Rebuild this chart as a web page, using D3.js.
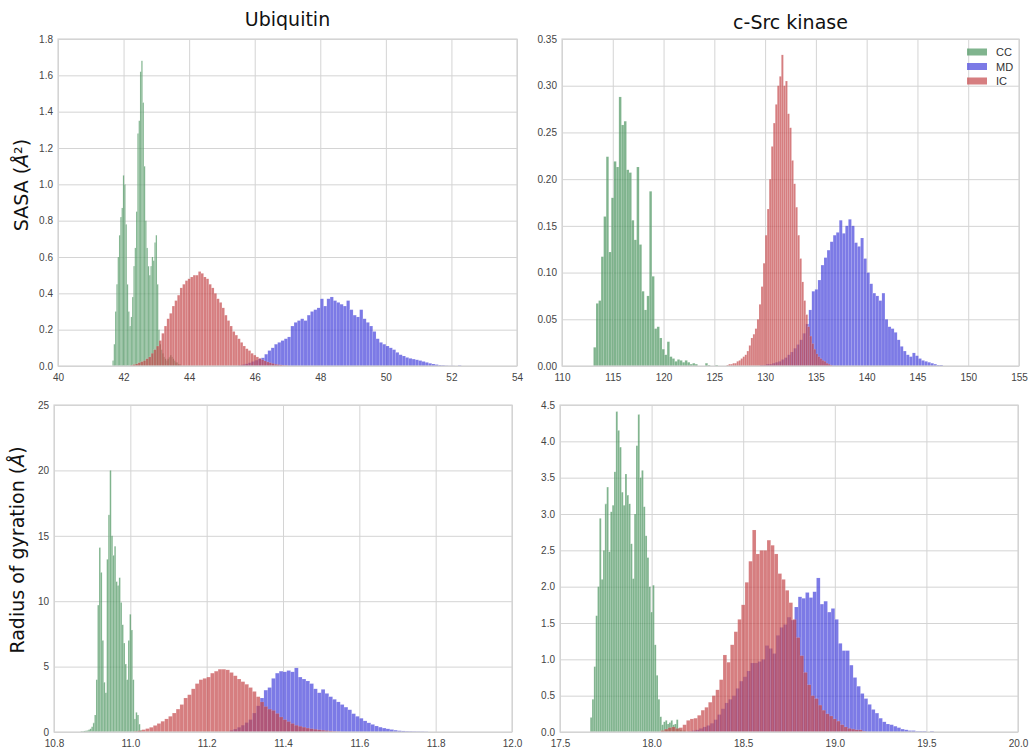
<!DOCTYPE html>
<html>
<head>
<meta charset="utf-8">
<script src="https://cdn.jsdelivr.net/npm/d3@7"></script>
<style>
  body { margin: 0; background: #fff; }
  .tick text { font-family: "Liberation Sans", Arial, sans-serif; font-size: 10px; fill: #444; }
  .grid line { stroke: #d4d4d4; stroke-width: 1; }
  .title { font-family: "DejaVu Sans", sans-serif; font-size: 19px; fill: #111; }
  .ylab { font-family: "DejaVu Sans", sans-serif; font-size: 19px; fill: #111; }
  .legend text { font-family: "Liberation Sans", Arial, sans-serif; font-size: 11px; fill: #333; }
</style>
</head>
<body>
<svg id="chart" width="1030" height="751"></svg>
<script>
// ---- histogram data (bin start, bin width, heights) ----
// Ubiquitin SASA
const ubiSasaCCStart = 41.66, ubiSasaCCWidth = 0.04
const ubiSasaCC = [0.03,0.12,0.3,0.45,0.6,0.72,0.82,0.87,1.05,1.0,0.78,0.45,0.3,0.22,0.27,0.38,0.55,0.65,0.85,1.28,
  1.35,1.62,1.68,1.45,1.1,0.8,0.65,0.55,0.5,0.55,0.6,0.58,0.68,0.72,0.45,0.2,0.12,0.09,0.07,0.05,
  0.04,0.03,0.04,0.05,0.06,0.05,0.04,0.03,0.02,0.02,0.01,0.01]
const ubiSasaICStart = 42.2, ubiSasaICWidth = 0.08
const ubiSasaIC = [0.004,0.008,0.012,0.018,0.024,0.03,0.04,0.05,0.07,0.09,0.11,0.14,0.18,0.22,0.26,0.29,0.33,0.36,0.39,0.43,
  0.45,0.47,0.48,0.49,0.5,0.5,0.52,0.51,0.49,0.48,0.45,0.43,0.4,0.37,0.35,0.32,0.28,0.25,0.22,0.19,
  0.17,0.15,0.13,0.11,0.095,0.085,0.07,0.06,0.05,0.042,0.035,0.028,0.022,0.018,0.014,0.01,0.008,0.006,0.004,0.003]
const ubiSasaMDStart = 45.5, ubiSasaMDWidth = 0.1
const ubiSasaMD = [0.004,0.008,0.012,0.018,0.025,0.032,0.04,0.045,0.065,0.085,0.1,0.12,0.13,0.14,0.15,0.16,0.22,0.24,0.25,0.26,
  0.25,0.28,0.3,0.31,0.32,0.37,0.33,0.37,0.38,0.36,0.35,0.34,0.33,0.36,0.31,0.28,0.27,0.31,0.26,0.24,
  0.22,0.19,0.15,0.13,0.12,0.11,0.1,0.09,0.075,0.062,0.055,0.047,0.042,0.038,0.034,0.03,0.025,0.02,0.015,0.011,
  0.008,0.005,0.004,0.002,0.001,0.001,0,0.003]

// c-Src SASA
const srcSasaCCStart = 113.1, srcSasaCCWidth = 0.25
const srcSasaCC = [0.02,0.067,0.07,0.117,0.16,0.224,0.122,0.18,0.219,0.213,0.288,0.258,0.262,0.21,0.207,0.156,0.135,0.213,0.13,0.08,
  0.06,0.075,0.187,0.096,0.04,0.042,0.03,0.018,0.012,0.026,0.01,0.008,0.005,0.007,0.006,0.004,0.006,0.004,0.002,0.003,
  0.002,0,0,0,0.003,0.001,0,0,0.001]
const srcSasaICStart = 126.2, srcSasaICWidth = 0.2
const srcSasaIC = [0.001,0.002,0.002,0.003,0.003,0.005,0.006,0.008,0.01,0.012,0.016,0.022,0.03,0.034,0.04,0.05,0.066,0.085,0.11,0.14,
  0.168,0.2,0.235,0.26,0.28,0.3,0.31,0.333,0.3,0.305,0.27,0.255,0.22,0.195,0.17,0.14,0.115,0.09,0.07,0.055,
  0.042,0.032,0.024,0.018,0.013,0.01,0.008,0.006,0.005,0.003,0.002,0.001]
const srcSasaMDStart = 129.5, srcSasaMDWidth = 0.3
const srcSasaMD = [0.001,0.001,0.002,0.002,0.003,0.004,0.005,0.007,0.009,0.012,0.015,0.019,0.023,0.028,0.035,0.045,0.06,0.08,0.082,0.092,
  0.108,0.116,0.124,0.133,0.14,0.143,0.156,0.142,0.15,0.157,0.15,0.132,0.128,0.137,0.115,0.1,0.088,0.078,0.075,0.07,
  0.078,0.05,0.042,0.04,0.036,0.028,0.021,0.016,0.012,0.01,0.014,0.011,0.008,0.006,0.005,0.004,0.003,0.002,0.001,0.001]

// Ubiquitin radius of gyration
const ubiRgCCStart = 10.87, ubiRgCCWidth = 0.004
const ubiRgCC = [0.05,0.05,0.08,0.1,0.12,0.18,0.25,0.4,0.7,1.3,4.0,9.7,14.1,12.2,7.0,3.8,3.0,13.2,16.6,20.0,
  15.0,13.5,14.2,11.5,11.2,11.8,9.9,8.2,6.8,5.2,4.0,7.0,9.0,7.8,4.0,1.0,1.5,1.3,0.6,0.15]
const ubiRgICStart = 11.01, ubiRgICWidth = 0.01
const ubiRgIC = [0.05,0.1,0.18,0.26,0.36,0.5,0.65,0.82,1.0,1.2,1.45,1.75,2.1,2.6,2.85,3.3,3.7,4.0,4.1,4.2,
  4.5,4.65,4.8,4.8,4.75,4.55,4.3,4.05,3.85,3.65,3.4,3.1,2.7,2.3,1.95,1.75,1.65,1.42,1.15,0.95,
  0.8,0.65,0.52,0.44,0.37,0.3,0.25,0.21,0.17,0.14,0.11,0.08,0.05,0.03]
const ubiRgMDStart = 11.26, ubiRgMDWidth = 0.01
const ubiRgMD = [0.12,0.22,0.36,0.52,0.72,0.95,1.45,2.0,2.6,3.2,3.4,4.1,4.5,4.65,4.6,4.7,4.6,4.9,4.2,4.05,
  3.9,3.7,3.3,3.0,3.26,2.95,2.7,2.5,2.3,2.1,1.9,1.7,1.4,1.2,1.05,0.85,0.7,0.58,0.46,0.37,
  0.3,0.24,0.19,0.14,0.1,0.08,0.06,0.05,0.04,0.035,0.03,0.02]

// c-Src radius of gyration
const srcRgCCStart = 17.665, srcRgCCWidth = 0.01
const srcRgCC = [0.2,0.45,0.9,1.6,2.0,2.94,2.1,2.5,3.14,3.37,2.48,3.03,3.12,3.58,4.41,4.15,3.92,3.3,3.12,3.55,
  3.26,3.14,2.59,2.11,3.0,3.94,4.37,3.5,3.6,3.1,2.7,2.4,2.0,1.65,2.02,1.2,0.78,0.45,0.21,0.1,
  0.14,0.16,0.11,0.13,0.16,0.1,0.11,0.17,0.05,0.03,0.02,0.02]
const srcRgICStart = 18.05, srcRgICWidth = 0.02
const srcRgIC = [0.02,0.04,0.06,0.07,0.05,0.06,0.1,0.16,0.18,0.19,0.23,0.3,0.34,0.41,0.5,0.58,0.72,1.06,0.96,1.2,
  1.38,1.55,1.75,2.06,2.35,2.78,2.45,2.5,2.5,2.64,2.57,2.45,2.18,2.1,1.95,1.78,1.55,1.3,1.05,0.82,
  0.65,0.5,0.46,0.37,0.3,0.25,0.22,0.18,0.15,0.1,0.07,0.05,0.04,0.03,0.03,0.01]
const srcRgMDStart = 18.2, srcRgMDWidth = 0.02
const srcRgMD = [0.01,0.02,0.03,0.05,0.07,0.09,0.12,0.17,0.24,0.32,0.4,0.45,0.5,0.6,0.7,0.76,0.84,0.95,0.95,0.97,
  1.0,1.19,1.15,1.08,1.33,1.44,1.48,1.58,1.54,1.72,1.86,1.84,1.92,1.85,1.93,2.12,1.76,1.8,1.65,1.7,
  1.55,1.22,1.12,1.12,0.92,0.75,0.63,0.53,0.46,0.38,0.31,0.26,0.19,0.14,0.11,0.1,0.08,0.06,0.04,0.03,
  0.02,0.02,0.01,0.01,0.01,0,0.01]

// ---- ticks ----
const ubiSasaXTicks = [40,42,44,46,48,50,52,54]
const ubiSasaYTicks = [0,0.2,0.4,0.6,0.8,1.0,1.2,1.4,1.6,1.8]
const srcSasaXTicks = [110,115,120,125,130,135,140,145,150,155]
const srcSasaYTicks = [0,0.05,0.1,0.15,0.2,0.25,0.3,0.35]
const ubiRgXTicks = [10.8,11.0,11.2,11.4,11.6,11.8,12.0]
const ubiRgYTicks = [0,5,10,15,20,25]
const srcRgXTicks = [17.5,18.0,18.5,19.0,19.5,20.0]
const srcRgYTicks = [0,0.5,1.0,1.5,2.0,2.5,3.0,3.5,4.0,4.5]

const seriesNames = ["CC", "MD", "IC"]
const seriesColors = { CC: "#4a945e", MD: "#4541db", IC: "#c4474a" }
const barOpacity = 0.7

// build a histogram series as bins
const makeBins = (start, width, values) => values.map((v, i) => ({ x0: start + i * width, x1: start + (i + 1) * width, v: v }))

const panels = [
  { box: { left: 58, right: 517, top: 39, bottom: 366 }, xDomain: [40, 54], yDomain: [0, 1.8],
    xTicks: ubiSasaXTicks, yTicks: ubiSasaYTicks, xFmt: d3.format("d"), yFmt: d3.format(".1f"),
    title: "Ubiquitin", titleY: 26,
    series: { CC: makeBins(ubiSasaCCStart, ubiSasaCCWidth, ubiSasaCC), MD: makeBins(ubiSasaMDStart, ubiSasaMDWidth, ubiSasaMD), IC: makeBins(ubiSasaICStart, ubiSasaICWidth, ubiSasaIC) } },
  { box: { left: 562, right: 1019, top: 39, bottom: 366 }, xDomain: [110, 155], yDomain: [0, 0.35],
    xTicks: srcSasaXTicks, yTicks: srcSasaYTicks, xFmt: d3.format("d"), yFmt: d3.format(".2f"),
    title: "c-Src kinase", titleY: 29, legend: true,
    series: { CC: makeBins(srcSasaCCStart, srcSasaCCWidth, srcSasaCC), MD: makeBins(srcSasaMDStart, srcSasaMDWidth, srcSasaMD), IC: makeBins(srcSasaICStart, srcSasaICWidth, srcSasaIC) } },
  { box: { left: 54, right: 512, top: 405, bottom: 732 }, xDomain: [10.8, 12.0], yDomain: [0, 25],
    xTicks: ubiRgXTicks, yTicks: ubiRgYTicks, xFmt: d3.format(".1f"), yFmt: d3.format("d"),
    series: { CC: makeBins(ubiRgCCStart, ubiRgCCWidth, ubiRgCC), MD: makeBins(ubiRgMDStart, ubiRgMDWidth, ubiRgMD), IC: makeBins(ubiRgICStart, ubiRgICWidth, ubiRgIC) } },
  { box: { left: 560, right: 1018, top: 405, bottom: 732 }, xDomain: [17.5, 20.0], yDomain: [0, 4.5],
    xTicks: srcRgXTicks, yTicks: srcRgYTicks, xFmt: d3.format(".1f"), yFmt: d3.format(".1f"),
    series: { CC: makeBins(srcRgCCStart, srcRgCCWidth, srcRgCC), MD: makeBins(srcRgMDStart, srcRgMDWidth, srcRgMD), IC: makeBins(srcRgICStart, srcRgICWidth, srcRgIC) } },
]

const svg = d3.select("#chart")

for (let p of panels) {
  const b = p.box
  const x = d3.scaleLinear().domain(p.xDomain).range([b.left, b.right])
  const y = d3.scaleLinear().domain(p.yDomain).range([b.bottom, b.top])
  const g = svg.append("g")

  // grid + tick labels
  g.append("g").attr("class", "grid")
    .attr("transform", `translate(0,${b.bottom})`)
    .call(d3.axisBottom(x).tickValues(p.xTicks).tickFormat(p.xFmt).tickSize(-(b.bottom - b.top)).tickPadding(8))
    .call(a => a.select(".domain").remove())
  g.append("g").attr("class", "grid")
    .attr("transform", `translate(${b.left},0)`)
    .call(d3.axisLeft(y).tickValues(p.yTicks).tickFormat(p.yFmt).tickSize(-(b.right - b.left)).tickPadding(5))
    .call(a => a.select(".domain").remove())

  // bars, drawn CC, MD, IC so red sits on top
  for (let name of seriesNames) {
    g.append("g").selectAll("rect").data(p.series[name]).enter().append("rect")
      .attr("x", d => x(d.x0))
      .attr("width", d => x(d.x1) - x(d.x0))
      .attr("y", d => y(d.v))
      .attr("height", d => y(0) - y(d.v))
      .attr("fill", seriesColors[name])
      .attr("fill-opacity", barOpacity)
      .attr("stroke", "#fff")
      .attr("stroke-opacity", 0.25)
      .attr("stroke-width", 0.4)
  }

  // frame
  g.append("rect")
    .attr("x", b.left).attr("y", b.top)
    .attr("width", b.right - b.left).attr("height", b.bottom - b.top)
    .attr("fill", "none").attr("stroke", "#d4d4d4").attr("stroke-width", 1.2)

  if (p.title) {
    g.append("text").attr("class", "title")
      .attr("x", (b.left + b.right) / 2).attr("y", p.titleY)
      .attr("text-anchor", "middle").text(p.title)
  }

  if (p.legend) {
    const lg = g.append("g").attr("class", "legend")
    seriesNames.forEach((name, i) => {
      const ly = 52 + i * 14.5
      lg.append("rect").attr("x", 967).attr("y", ly - 3.5).attr("width", 20).attr("height", 7)
        .attr("fill", seriesColors[name]).attr("fill-opacity", barOpacity)
      lg.append("text").attr("x", 996).attr("y", ly + 4).text(name)
    })
  }
}

// y axis labels
svg.append("text").attr("class", "ylab")
  .attr("transform", "translate(28,185) rotate(-90)")
  .attr("text-anchor", "middle")
  .html('SASA (<tspan font-style="italic">Å</tspan>²)')
svg.append("text").attr("class", "ylab")
  .attr("transform", "translate(24,550) rotate(-90)")
  .attr("text-anchor", "middle")
  .html('Radius of gyration (<tspan font-style="italic">Å</tspan>)')
</script>
</body>
</html>
